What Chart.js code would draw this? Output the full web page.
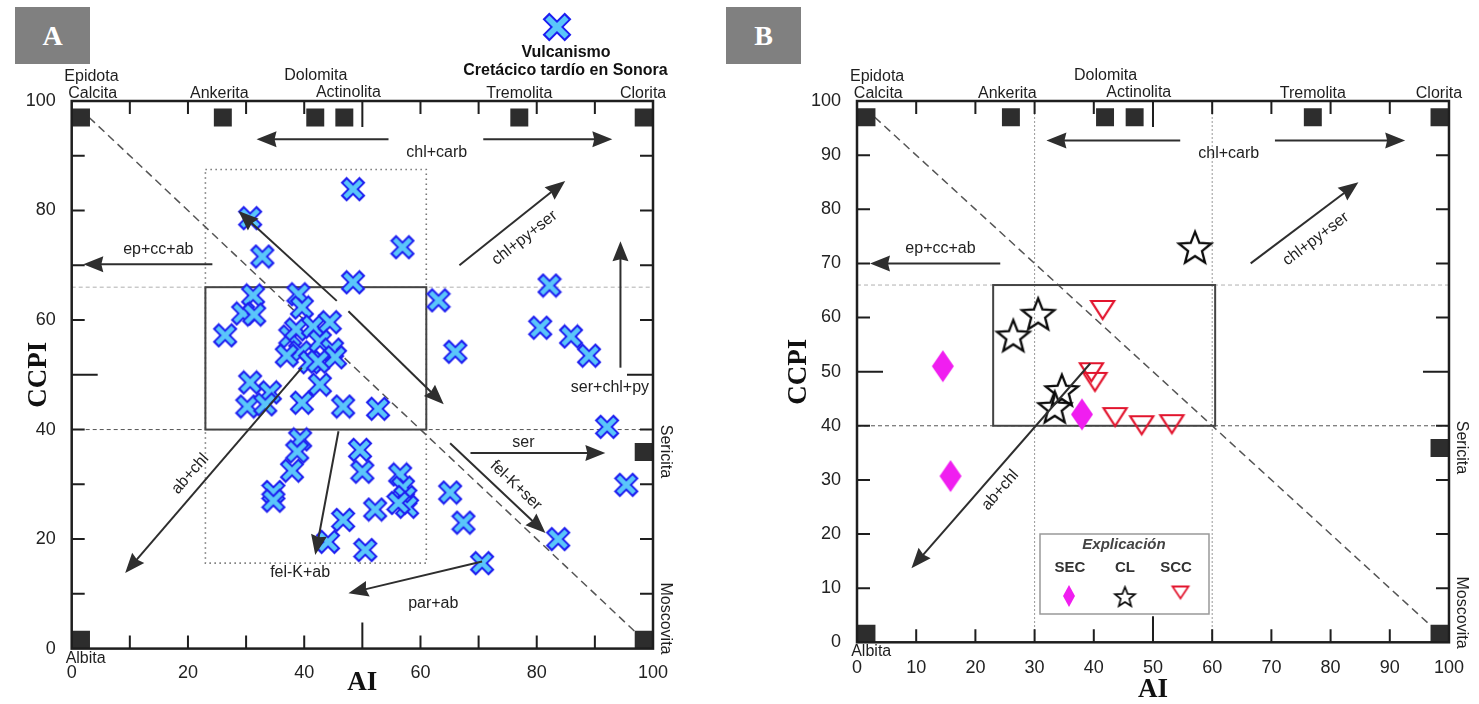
<!DOCTYPE html>
<html>
<head>
<meta charset="utf-8">
<script src="https://cdn.jsdelivr.net/npm/chart.js@4.4.1/dist/chart.umd.min.js"></script>
<style>
  html, body { margin: 0; padding: 0; background: #fff; }
  body { width: 1479px; height: 704px; position: relative; overflow: hidden; }
  .panel { position: absolute; top: 0; height: 704px; }
  #panelA { left: 0; width: 720px; }
  #panelB { left: 720px; width: 759px; }
  .tag { position: absolute; top: 7px; width: 75px; height: 57px; background: #808080; color: #fff;
         font: bold 28px 'Liberation Serif', 'Times New Roman', serif; line-height: 57px; text-align: center; }
</style>
</head>
<body>
<div class="panel" id="panelA"><canvas id="chartA"></canvas></div>
<div class="panel" id="panelB"><canvas id="chartB"></canvas></div>
<div class="tag" style="left:15px">A</div>
<div class="tag" style="left:726px">B</div>
<script>
// panel A: Vulcanismo Cretácico tardío en Sonora
const aiA = [48.4, 30.7, 32.8, 56.9, 48.4, 31.2, 29.5, 31.4, 26.4, 39.0, 39.6, 37.6, 38.6, 41.5, 44.4, 42.7, 44.8, 39.3, 37.0, 41.0,
             45.3, 42.4, 30.7, 34.1, 30.2, 33.3, 39.6, 42.7, 46.7, 52.7, 63.1, 82.2, 80.6, 85.9, 89.0, 66.0, 92.1, 95.4, 83.7, 70.6,
             39.3, 38.8, 37.9, 34.7, 34.7, 49.6, 50.0, 46.7, 44.1, 52.2, 50.5, 56.5, 57.0, 57.4, 57.7, 56.2, 65.1, 67.4];
const ccpiA = [83.9, 78.6, 71.6, 73.3, 66.9, 64.5, 61.2, 61.0, 57.2, 64.7, 62.3, 57.0, 58.3, 58.8, 59.6, 56.1, 54.6, 54.1, 53.5, 52.3,
               53.2, 52.4, 48.6, 46.8, 44.2, 44.6, 44.9, 48.2, 44.2, 43.8, 63.6, 66.3, 58.6, 57.0, 53.5, 54.2, 40.5, 29.9, 20.0, 15.6,
               38.2, 36.0, 32.5, 28.6, 27.0, 36.3, 32.3, 23.5, 19.5, 25.4, 18.0, 31.8, 29.4, 27.7, 25.9, 26.6, 28.5, 23.0];

// panel B
const aiSEC = [14.5, 15.8, 38.0];
const ccpiSEC = [51.0, 30.7, 42.1];
const aiCL = [57.1, 30.6, 26.4, 34.6, 33.4];
const ccpiCL = [73.0, 60.7, 56.7, 46.6, 43.5];
const aiSCC = [41.5, 39.6, 40.2, 43.6, 48.1, 53.2];
const ccpiSCC = [61.4, 49.9, 48.1, 41.6, 40.1, 40.3];

// mineral end members (squares on the frame)
const mineralAI = [1.6, 26.0, 41.9, 46.9, 77.0, 98.4, 98.4, 98.4, 1.6];
const mineralCCPI = [97, 97, 97, 97, 97, 97, 35.9, 1.6, 1.6];

const ticksA = [0, 20, 40, 60, 80, 100];
const ticksB = [0, 10, 20, 30, 40, 50, 60, 70, 80, 90, 100];
const tickMarks = [10, 20, 30, 40, 50, 60, 70, 80, 90];

// [text, AI, CCPI]
const mineralLabels = [['Epidota', 3.4, 104.5], ['Calcita', 3.6, 101.3], ['Ankerita', 25.4, 101.3], ['Dolomita', 42.0, 104.7],
                       ['Actinolita', 47.6, 101.6], ['Tremolita', 77.0, 101.3], ['Clorita', 98.3, 101.3], ['Albita', 2.4, -1.8]];
const sideLabels = [['Sericita', 102.1, 36.0], ['Moscovita', 102.1, 5.5]];

// [x1, y1, x2, y2] arrow from -> to
const arrowsA = [[54.5, 93, 31.8, 93], [70.8, 93, 93, 93], [66.7, 70, 84.9, 85.4], [24.2, 70.2, 2, 70.2],
                 [45.6, 63.5, 28.7, 79.9], [47.6, 61.6, 64, 44.6], [39.6, 51.3, 9.2, 13.8], [45.9, 39.7, 41.9, 17.1],
                 [70.6, 15.9, 47.6, 10.1], [68.6, 35.7, 91.8, 35.7], [65.1, 37.5, 81.5, 21.1], [94.4, 51.3, 94.4, 74.4]];
// [text, x, y, angle deg]
const labelsA = [['chl+carb', 62.8, 90.5, 0], ['chl+py+ser', 77.9, 75.0, -38], ['ep+cc+ab', 14.9, 72.9, 0],
                 ['ab+chl', 20.4, 31.9, -49], ['fel-K+ab', 39.3, 13.8, 0], ['par+ab', 62.2, 8.3, 0], ['ser', 77.7, 37.6, 0],
                 ['fel-K+ser', 76.4, 29.8, 43.5], ['ser+chl+py', 92.6, 47.6, 0]];
const arrowsB = [[54.6, 92.7, 32.0, 92.7], [70.6, 92.7, 92.6, 92.7], [66.5, 70, 84.7, 85], [24.2, 70, 2.2, 70], [39.4, 51.5, 9.2, 13.7]];
const labelsB = [['chl+carb', 62.8, 90.2, 0], ['chl+py+ser', 77.5, 74.5, -37], ['ep+cc+ab', 14.1, 72.7, 0], ['ab+chl', 24.2, 28.1, -49]];

Chart.defaults.font.family = "'Liberation Sans', Arial, sans-serif";
Chart.defaults.color = '#222';

function crossGlyph(size, lw) {
    const c = document.createElement('canvas');
    c.width = c.height = size;
    const g = c.getContext('2d');
    const m = lw * 0.36 + 0.5;
    const line = o => {
        g.beginPath();
        g.moveTo(m + o, m + o); g.lineTo(size - m - o, size - m - o);
        g.moveTo(size - m - o, m + o); g.lineTo(m + o, size - m - o);
        g.stroke();
    };
    g.lineCap = 'butt';
    g.strokeStyle = '#1d1df0'; g.lineWidth = lw; line(0);
    g.strokeStyle = '#5ac6fa'; g.lineWidth = lw - 3.8; line(1.5);
    return c;
}

function starGlyph(R, lw) {
    const s = Math.ceil(2 * R + 10);
    const c = document.createElement('canvas');
    c.width = c.height = s;
    const g = c.getContext('2d');
    const cx = s / 2, cy = s / 2 + R * 0.095;
    g.beginPath();
    for (let i = 0; i < 10; i++) {
        const r = i % 2 ? R * 0.43 : R;
        const a = -Math.PI / 2 + i * Math.PI / 5;
        g.lineTo(cx + r * Math.cos(a), cy + r * Math.sin(a));
    }
    g.closePath();
    g.strokeStyle = '#0a0a0a'; g.lineWidth = lw; g.stroke();
    return c;
}

function diamondGlyph(w, h) {
    const c = document.createElement('canvas');
    c.width = w + 2; c.height = h + 2;
    const g = c.getContext('2d');
    g.beginPath();
    g.moveTo(1 + w / 2, 1); g.lineTo(1 + w, 1 + h / 2); g.lineTo(1 + w / 2, 1 + h); g.lineTo(1, 1 + h / 2);
    g.closePath();
    g.fillStyle = '#f01ef0'; g.fill();
    return c;
}

function triGlyph(w, h, lw) {
    const p = Math.ceil(lw * 2);
    const c = document.createElement('canvas');
    c.width = w + 2 * p; c.height = h + 2 * p;
    const g = c.getContext('2d');
    g.beginPath();
    g.moveTo(p, p); g.lineTo(p + w, p); g.lineTo(p + w / 2, p + h);
    g.closePath();
    g.strokeStyle = '#e2142d'; g.lineWidth = lw; g.stroke();
    return c;
}

const crossImg = crossGlyph(26, 8.5);
const crossBig = crossGlyph(30, 9.5);
const starImg = starGlyph(17, 2.3);
const starSmall = starGlyph(10.5, 1.7);
const diamondImg = diamondGlyph(22, 32);
const diamondSmall = diamondGlyph(12, 22);
const triImg = triGlyph(23, 18, 2.2);
const triSmall = triGlyph(16, 12, 1.8);

function points(xs, ys) {
    return xs.map((v, i) => ({ x: v, y: ys[i] }));
}

function mineralSet() {
    return {
        label: 'Minerales', data: points(mineralAI, mineralCCPI), pointStyle: 'rect',
        pointRadius: 12.7, backgroundColor: '#2d2d2d', borderWidth: 0, order: 5
    };
}

function axis(tickVals, size, horizontal, title, titlePad, tickPad) {
    return {
        type: 'linear', min: 0, max: 100,
        afterBuildTicks: s => { s.ticks = tickVals.map(v => ({ value: v })); },
        afterFit: s => { if (horizontal) s.height = size; else s.width = size; },
        grid: { display: false, drawTicks: false },
        border: { display: false },
        ticks: { padding: tickPad, color: '#222', font: { size: 18 } },
        title: {
            display: true, text: title, color: '#111',
            padding: horizontal ? { top: 0, bottom: titlePad } : { top: titlePad, bottom: 0 },
            font: { family: "'Liberation Serif', 'Times New Roman', serif", size: 27, weight: 'bold', lineHeight: 1 }
        }
    };
}

function arrow(ctx, x1, y1, x2, y2) {
    const ang = Math.atan2(y2 - y1, x2 - x1);
    const L = 20, W = 8;
    const bx = x2 - L * Math.cos(ang), by = y2 - L * Math.sin(ang);
    ctx.beginPath(); ctx.moveTo(x1, y1); ctx.lineTo(bx + 3 * Math.cos(ang), by + 3 * Math.sin(ang)); ctx.stroke();
    ctx.beginPath();
    ctx.moveTo(x2, y2);
    ctx.lineTo(bx + W * Math.sin(ang), by - W * Math.cos(ang));
    ctx.lineTo(bx + 2 * Math.cos(ang), by + 2 * Math.sin(ang));
    ctx.lineTo(bx - W * Math.sin(ang), by + W * Math.cos(ang));
    ctx.closePath(); ctx.fill();
}

function decor(cfg) {
    return {
        id: 'decor',
        beforeDatasetsDraw(chart) {
            const { ctx, chartArea: a, scales: { x, y } } = chart;
            const X = v => x.getPixelForValue(v), Y = v => y.getPixelForValue(v);
            ctx.save();
            // horizontal guides
            ctx.lineWidth = 1;
            ctx.setLineDash([4, 3]);
            ctx.strokeStyle = '#b0b0b0';
            ctx.beginPath(); ctx.moveTo(a.left, Y(66)); ctx.lineTo(a.right, Y(66)); ctx.stroke();
            ctx.strokeStyle = '#555';
            ctx.beginPath(); ctx.moveTo(a.left, Y(40)); ctx.lineTo(a.right, Y(40)); ctx.stroke();
            // vertical dotted guides
            ctx.setLineDash([2, 2]);
            ctx.strokeStyle = '#999';
            cfg.vLines.forEach(v => {
                ctx.beginPath(); ctx.moveTo(X(v), a.top); ctx.lineTo(X(v), a.bottom); ctx.stroke();
            });
            // dotted field
            if (cfg.field) {
                const [x1, y1, x2, y2] = cfg.field;
                ctx.setLineDash([1.5, 3.5]); ctx.lineWidth = 1.6; ctx.strokeStyle = '#777';
                ctx.strokeRect(X(x1), Y(y2), X(x2) - X(x1), Y(y1) - Y(y2));
            }
            // diagonal
            ctx.setLineDash([8, 5]); ctx.lineWidth = 1.5; ctx.strokeStyle = '#555';
            ctx.beginPath(); ctx.moveTo(X(3), Y(97)); ctx.lineTo(X(97), Y(3)); ctx.stroke();
            // box of least altered rocks
            const [bx1, by1, bx2, by2] = cfg.box;
            ctx.setLineDash([]); ctx.lineWidth = 2; ctx.strokeStyle = '#444';
            ctx.strokeRect(X(bx1), Y(by2), X(bx2) - X(bx1), Y(by1) - Y(by2));
            ctx.restore();
        },
        afterDatasetsDraw(chart) {
            const { ctx, scales: { x, y } } = chart;
            const X = v => x.getPixelForValue(v), Y = v => y.getPixelForValue(v);
            ctx.save();
            ctx.strokeStyle = '#2e2e2e'; ctx.fillStyle = '#2e2e2e'; ctx.lineWidth = 2;
            cfg.arrows.forEach(([x1, y1, x2, y2]) => arrow(ctx, X(x1), Y(y1), X(x2), Y(y2)));
            ctx.fillStyle = '#222';
            ctx.font = "16px 'Liberation Sans', Arial, sans-serif";
            ctx.textAlign = 'center'; ctx.textBaseline = 'middle';
            cfg.labels.forEach(([t, lx, ly, ang]) => {
                ctx.save(); ctx.translate(X(lx), Y(ly)); ctx.rotate(ang * Math.PI / 180);
                ctx.fillText(t, 0, 0); ctx.restore();
            });
            ctx.restore();
        },
        afterDraw(chart) {
            const { ctx, chartArea: a, scales: { x, y } } = chart;
            const X = v => x.getPixelForValue(v), Y = v => y.getPixelForValue(v);
            ctx.save();
            ctx.strokeStyle = '#1e1e1e'; ctx.lineWidth = 2;
            tickMarks.forEach(v => {
                const len = v === 50 ? 26 : 13;
                ctx.beginPath();
                ctx.moveTo(X(v), a.bottom); ctx.lineTo(X(v), a.bottom - len);
                ctx.moveTo(X(v), a.top); ctx.lineTo(X(v), a.top + len);
                ctx.moveTo(a.left, Y(v)); ctx.lineTo(a.left + len, Y(v));
                ctx.moveTo(a.right, Y(v)); ctx.lineTo(a.right - len, Y(v));
                ctx.stroke();
            });
            ctx.lineWidth = 2.5;
            ctx.strokeRect(a.left, a.top, a.right - a.left, a.bottom - a.top);
            // mineral names
            ctx.fillStyle = '#1e1e1e';
            ctx.font = "16px 'Liberation Sans', Arial, sans-serif";
            ctx.textAlign = 'center'; ctx.textBaseline = 'middle';
            mineralLabels.forEach(([t, lx, ly]) => ctx.fillText(t, X(lx), Y(ly)));
            sideLabels.forEach(([t, lx, ly]) => {
                ctx.save(); ctx.translate(X(lx), Y(ly)); ctx.rotate(Math.PI / 2);
                ctx.fillText(t, 0, 0); ctx.restore();
            });
            if (cfg.legend) cfg.legend(ctx);
            ctx.restore();
        }
    };
}

function legendA(ctx) {
    ctx.drawImage(crossBig, 557 - crossBig.width / 2, 27 - crossBig.height / 2);
    ctx.fillStyle = '#111';
    ctx.font = "bold 16px 'Liberation Sans', Arial, sans-serif";
    ctx.fillText('Vulcanismo', 566, 53);
    ctx.fillText('Cretácico tardío en Sonora', 565.5, 70.5);
}

function legendB(ctx) {
    ctx.fillStyle = '#fff';
    ctx.fillRect(320, 534, 169, 80);
    ctx.strokeStyle = '#999'; ctx.lineWidth = 1.5;
    ctx.strokeRect(320, 534, 169, 80);
    ctx.fillStyle = '#444';
    ctx.font = "italic bold 15px 'Liberation Sans', Arial, sans-serif";
    ctx.fillText('Explicación', 404, 545);
    ctx.font = "bold 15px 'Liberation Sans', Arial, sans-serif";
    ctx.fillStyle = '#333';
    ctx.fillText('SEC', 350, 568);
    ctx.fillText('CL', 405, 568);
    ctx.fillText('SCC', 456, 568);
    [[diamondSmall, 349, 596], [starSmall, 405, 596.5], [triSmall, 460.5, 592.5]].forEach(([img, cx, cy]) => {
        ctx.drawImage(img, cx - img.width / 2, cy - img.height / 2);
    });
}

const chartA = new Chart(document.getElementById('chartA'), {
    type: 'scatter',
    data: {
        datasets: [
            { label: 'Vulcanismo Cretácico tardío en Sonora', data: points(aiA, ccpiA), pointStyle: crossImg, pointRadius: 10, order: 1 },
            mineralSet()
        ]
    },
    options: {
        responsive: true, maintainAspectRatio: false, animation: false,
        layout: { padding: { top: 101, right: 67, bottom: 0, left: 0 } },
        plugins: { legend: { display: false }, tooltip: { enabled: false } },
        scales: {
            x: axis(ticksA, 55.4, true, 'AI', 7.5, 14),
            y: axis(ticksA, 71.7, false, 'CCPI', 26, 16)
        }
    },
    plugins: [decor({ arrows: arrowsA, labels: labelsA, box: [23, 40, 61, 66], field: [23, 15.6, 61, 87.5], vLines: [], legend: legendA })]
});

const chartB = new Chart(document.getElementById('chartB'), {
    type: 'scatter',
    data: {
        datasets: [
            { label: 'SEC', data: points(aiSEC, ccpiSEC), pointStyle: diamondImg, pointRadius: 10, order: 3 },
            { label: 'CL', data: points(aiCL, ccpiCL), pointStyle: starImg, pointRadius: 10, order: 2 },
            { label: 'SCC', data: points(aiSCC, ccpiSCC), pointStyle: triImg, pointRadius: 10, order: 1 },
            mineralSet()
        ]
    },
    options: {
        responsive: true, maintainAspectRatio: false, animation: false,
        layout: { padding: { top: 101, right: 30, bottom: 0, left: 0 } },
        plugins: { legend: { display: false }, tooltip: { enabled: false } },
        scales: {
            x: axis(ticksB, 61.7, true, 'AI', 0, 15),
            y: axis(ticksB, 137, false, 'CCPI', 66, 16)
        }
    },
    plugins: [decor({ arrows: arrowsB, labels: labelsB, box: [23, 40, 60.5, 66], field: null, vLines: [30, 60], legend: legendB })]
});
</script>
</body>
</html>
